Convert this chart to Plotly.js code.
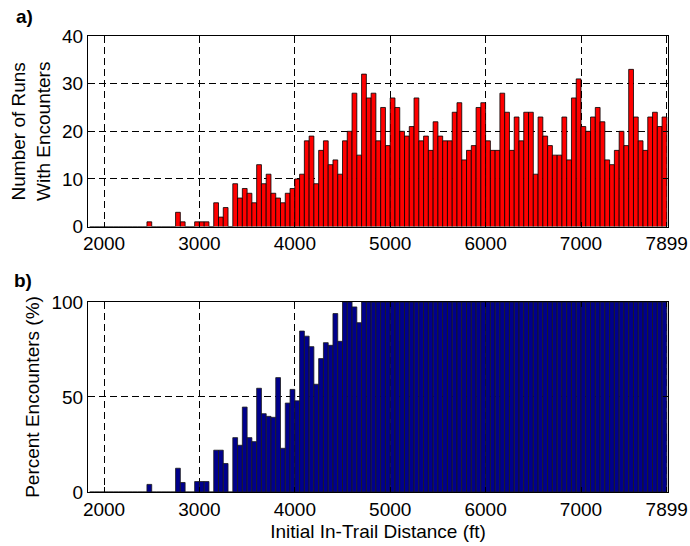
<!DOCTYPE html>
<html>
<head>
<meta charset="utf-8">
<script src="https://cdn.plot.ly/plotly-3.0.1.min.js"></script>
<style>html,body{margin:0;padding:0;background:#fff;}#chart{width:690px;height:546px;}</style>
</head>
<body>
<div id="chart"></div>
<script>
// Bin centers (ft)
var binCenters = [1875,1925,1975,2025,2075,2125,2175,2225,2275,2325,2375,2425,2475,2525,2575,2625,2675,2725,2775,2825,2875,2925,2975,3025,3075,3125,3175,3225,3275,3325,3375,3425,3475,3525,3575,3625,3675,3725,3775,3825,3875,3925,3975,4025,4075,4125,4175,4225,4275,4325,4375,4425,4475,4525,4575,4625,4675,4725,4775,4825,4875,4925,4975,5025,5075,5125,5175,5225,5275,5325,5375,5425,5475,5525,5575,5625,5675,5725,5775,5825,5875,5925,5975,6025,6075,6125,6175,6225,6275,6325,6375,6425,6475,6525,6575,6625,6675,6725,6775,6825,6875,6925,6975,7025,7075,7125,7175,7225,7275,7325,7375,7425,7475,7525,7575,7625,7675,7725,7775,7825,7875];
var binWidth = 50;
// a) Number of runs with encounters
var runsWithEncounters = [0,0,0,0,0,0,0,0,0,0,0,0,1,0,0,0,0,0,3,1,0,0,1,1,1,0,5,2,4,0,
  9,6,8,7,5,13,9,11,7,6,5,7,8,
  10,11,18,19,9,16,18,13,14,11,18,20,28,15,32,27,28,18,25,17,
  27,25,20,19,21,27,18,19,16,22,19,18,18,24,26,14,16,17,25,26,
  18,16,16,28,24,16,23,18,24,24,11,23,19,17,15,15,23,14,27,31,
  21,20,23,25,22,14,13,16,20,17,33,23,18,16,23,24,21,23];
// b) Percent encounters
var percentEncounters = [0,0,0,0,0,0,0,0,0,0,0,0,4,0,0,0,0,0,12.5,5,0,0,5.5,5.5,5.5,0,22,22,15,0,
  28.6,24.6,44.7,28.6,26.5,54.6,41.2,39.8,39.3,60.2,23,46.8,54,
  48,84.7,82,76.5,56.7,70.2,78.6,77.2,93.9,79.3,100,100,97.4,89.1,100,100,100,100,100,100,100,
  100,100,100,100,100,100,100,100,100,100,100,100,100,100,100,100,100,100,100,100,
  100,100,100,100,100,100,100,100,100,100,100,100,100,100,100,100,100,100,100,100,
  100,100,100,100,100,100,100,100,100,100,100,100,100,100,100,100,100,100];
var xTickVals = [2000,3000,4000,5000,6000,7000,7899];
var xTickText = ['2000','3000','4000','5000','6000','7000','7899'];
var yTopTicks = [0,10,20,30,40];
var yBotTicks = [0,50,100];

var FONT = 'Liberation Sans, Arial, Helvetica, sans-serif';

var traces = [
  {type:'bar', x:binCenters, y:runsWithEncounters, width:binWidth, xaxis:'x', yaxis:'y',
   marker:{color:'#ff0000', line:{color:'#000000', width:0.8}}, hoverinfo:'x+y'},
  {type:'bar', x:binCenters, y:percentEncounters, width:binWidth, xaxis:'x2', yaxis:'y2',
   marker:{color:'#00008c', line:{color:'#1a1a1a', width:0.8}}, hoverinfo:'x+y'}
];

function xAxis(anchor, title){
  var a = {anchor:anchor, range:[1832,7912], tickmode:'array', tickvals:xTickVals, ticktext:xTickText,
    ticks:'inside', ticklen:5, tickcolor:'#000', showline:true, linecolor:'#000', linewidth:1, mirror:'ticks',
    showgrid:true, gridcolor:'#000', gridwidth:1, griddash:'7px,4px', zeroline:false,
    tickfont:{family:FONT, size:19, color:'#000'}, automargin:false};
  if (title) a.title = {text:title, font:{family:FONT, size:19, color:'#000'}, standoff:5};
  return a;
}
function yAxis(anchor, domain, range, ticks, title){
  return {anchor:anchor, domain:domain, range:range, tickmode:'array', tickvals:ticks,
    ticks:'inside', ticklen:5, tickcolor:'#000', showline:true, linecolor:'#000', linewidth:1, mirror:'ticks',
    showgrid:true, gridcolor:'#000', gridwidth:1, griddash:'7px,4px', zeroline:false,
    tickfont:{family:FONT, size:19, color:'#000'}, automargin:false,
    title:{text:title, font:{family:FONT, size:19, color:'#000'}, standoff:6}};
}

var layout = {
  width:690, height:546,
  margin:{l:88, r:22, t:36, b:54},
  paper_bgcolor:'#fff', plot_bgcolor:'#fff',
  showlegend:false, bargap:0,
  font:{family:FONT, size:19, color:'#000'},
  xaxis: xAxis('y', null),
  yaxis: yAxis('x', [0.582,1], [0,40], yTopTicks, 'Number of Runs<br>With Encounters'),
  xaxis2: xAxis('y2', 'Initial In-Trail Distance (ft)'),
  yaxis2: yAxis('x2', [0,0.4167], [0,100], yBotTicks, 'Percent Encounters (%)'),
  annotations:[
    {text:'<b>a)</b>', xref:'paper', yref:'paper', x:-0.109, y:1.042, xanchor:'center', yanchor:'middle', showarrow:false, font:{family:FONT, size:19, color:'#000'}},
    {text:'<b>b)</b>', xref:'paper', yref:'paper', x:-0.112, y:0.463, xanchor:'center', yanchor:'middle', showarrow:false, font:{family:FONT, size:19, color:'#000'}}
  ]
};

Plotly.newPlot('chart', traces, layout, {displayModeBar:false, staticPlot:true});
</script>
</body>
</html>
